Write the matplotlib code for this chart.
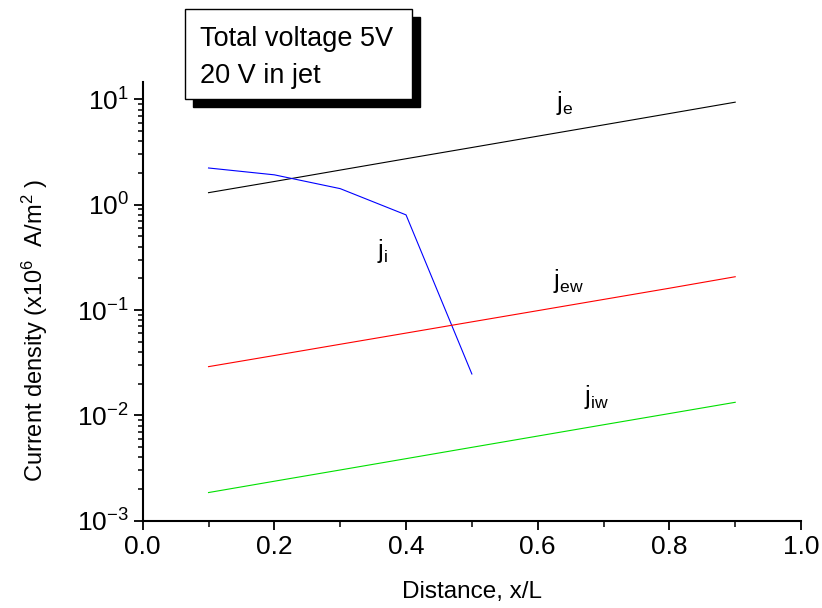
import numpy as np
import matplotlib
matplotlib.use('Agg')
import matplotlib.pyplot as plt
from matplotlib.patches import Rectangle
from matplotlib.ticker import LogLocator, LogFormatterMathtext, MultipleLocator

plt.rcParams['font.family'] = ['Liberation Sans', 'DejaVu Sans']
plt.rcParams['mathtext.fontset'] = 'custom'
plt.rcParams['mathtext.rm'] = 'Liberation Sans'
plt.rcParams['mathtext.it'] = 'Liberation Sans'
plt.rcParams['mathtext.default'] = 'regular'

x = [0.1, 0.2, 0.3, 0.4, 0.5, 0.6, 0.7, 0.8, 0.9]
j_e = [1.30, 1.66, 2.13, 2.73, 3.49, 4.47, 5.72, 7.33, 9.40]
j_ew = [0.0290, 0.0370, 0.0473, 0.0604, 0.0772, 0.0986, 0.126, 0.161, 0.207]
j_iw = [0.00185, 0.00237, 0.00303, 0.00388, 0.00497, 0.00636, 0.00814, 0.0104, 0.0133]
x_i = [0.1, 0.2, 0.3, 0.4, 0.5]
j_i = [2.23, 1.92, 1.42, 0.80, 0.0247]

labels = [('$j_{e}$', 0.641, 9.2), ('$j_{i}$', 0.364, 0.363),
          ('$j_{ew}$', 0.647, 0.188), ('$j_{iw}$', 0.690, 0.0149)]

fig = plt.figure(figsize=(8.22, 6.08), dpi=100)
ax = fig.add_axes([0.1736, 0.1436, 0.8009, 0.722])

ax.plot(x, j_e, color='black', lw=0.8)
ax.plot(x_i, j_i, color='blue', lw=0.8)
ax.plot(x, j_ew, color='red', lw=0.8)
ax.plot(x, j_iw, color='#00e000', lw=0.8)

for txt, lx, ly in labels:
    ax.text(lx, ly, txt, fontsize=18, ha='center', va='center')

ax.set_yscale('log')
ax.set_xlim(0, 1.0)
ax.set_ylim(1e-3, 14.7)
ax.xaxis.set_major_locator(MultipleLocator(0.2))
ax.xaxis.set_minor_locator(MultipleLocator(0.1))
ax.xaxis.set_major_formatter(plt.FuncFormatter(lambda v, p: '%.1f' % v))
ax.yaxis.set_major_locator(LogLocator(base=10, numticks=10))
ax.yaxis.set_minor_locator(LogLocator(base=10, subs=np.arange(2, 10), numticks=20))
ax.yaxis.set_major_formatter(LogFormatterMathtext())

for s in ['top', 'right']:
    ax.spines[s].set_visible(False)
for s in ['left', 'bottom']:
    ax.spines[s].set_linewidth(1.5)
ax.tick_params(which='major', length=6.5, width=1.3, labelsize=19, direction='out')
ax.tick_params(which='minor', length=3.5, width=1.1, direction='out')
ax.tick_params(axis='x', which='minor', length=4.5)

W, H = 822.0, 608.0
fig.text(471.5 / W, 1 - 592 / H, 'Distance, x/L', fontsize=17.5,
         ha='center', va='center')
fig.text(35 / W, 1 - 330 / H, 'Current density (x10$^{6}$  A/m$^{2}$ )',
         fontsize=17, rotation=90, ha='center', va='center')

# text box with shadow
fig.patches.append(Rectangle((193 / W, 1 - 107 / H), 227 / W, 90 / H,
                             transform=fig.transFigure, facecolor='black',
                             edgecolor='black', lw=1, zorder=1))
fig.patches.append(Rectangle((185 / W, 1 - 99 / H), 227 / W, 90 / H,
                             transform=fig.transFigure, facecolor='white',
                             edgecolor='black', lw=1, zorder=2))
fig.text(200 / W, 1 - 46 / H, 'Total voltage 5V', fontsize=19.5, zorder=3)
fig.text(200 / W, 1 - 83 / H, '20 V in jet', fontsize=19.5, zorder=3)

fig.savefig('out.png', dpi=100)
